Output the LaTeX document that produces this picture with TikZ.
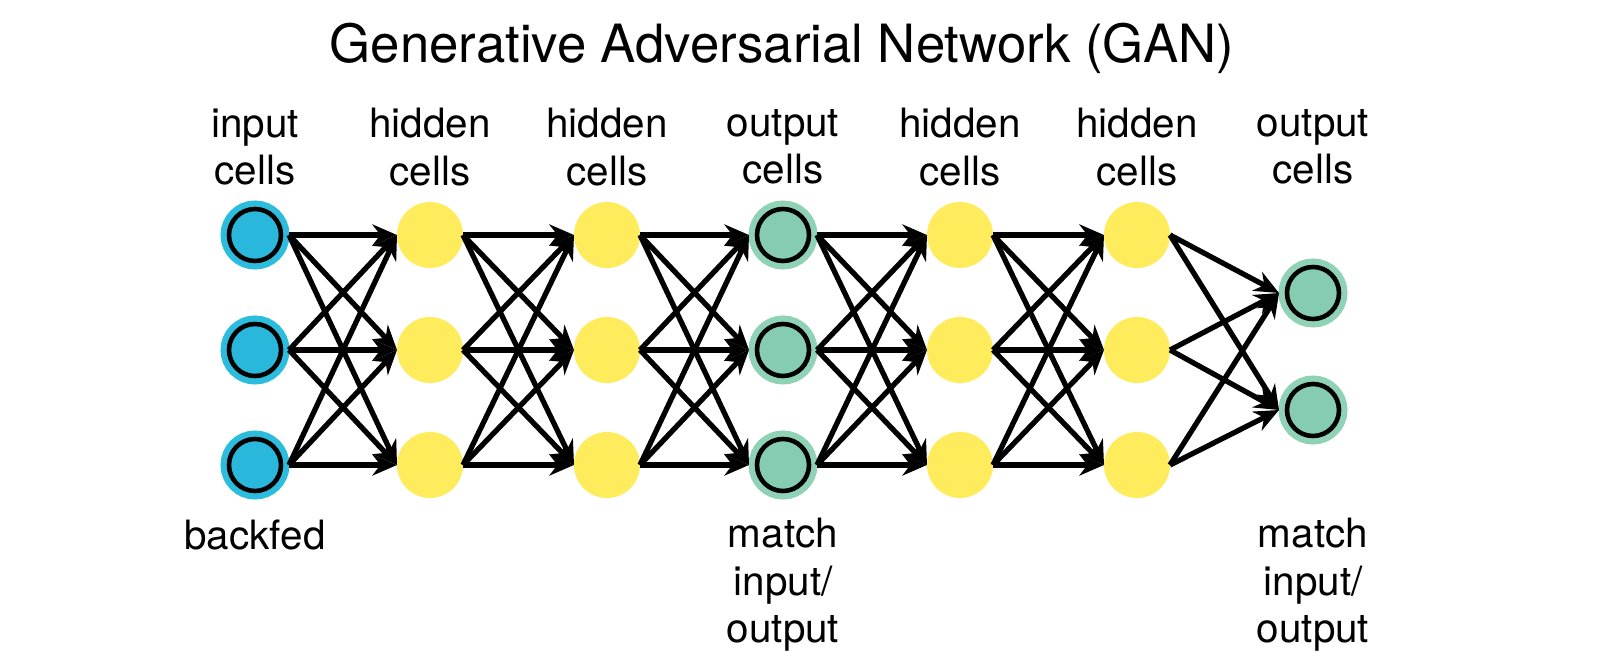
\documentclass[tikz,border=0pt]{standalone}
\usepackage{fontspec}
\setmainfont{TeX Gyre Heros}
\usetikzlibrary{arrows.meta}
\definecolor{cellblue}{HTML}{29B8DB}
\definecolor{ringblue}{HTML}{2CBCDD}
\definecolor{cellgreen}{HTML}{86CCB0}
\definecolor{ringgreen}{HTML}{8FD2B6}
\definecolor{cellyellow}{HTML}{FFEC5C}
\begin{document}
\begin{tikzpicture}[x=1cm,y=1cm,
    ring cell/.style={circle,draw=black,line width=2.6pt,minimum size=1.04cm,inner sep=0pt,outer sep=0.16cm},
    in cell/.style={ring cell,fill=cellblue,preaction={draw=ringblue,line width=0.34cm}},
    out cell/.style={ring cell,fill=cellgreen,preaction={draw=ringgreen,line width=0.34cm}},
    hid cell/.style={circle,fill=cellyellow,minimum size=1.32cm,inner sep=0pt,outer sep=0pt},
    tag/.style={align=center,font=\fontsize{23}{27}\selectfont},
    link/.style={-{Stealth[length=14pt,width=12pt]},line width=3pt}]
    \useasboundingbox (0,0) rectangle (32,-13.14);

    % title
    \node[font=\fontsize{30}{34}\selectfont] (title) at (15.64,-0.96) {Generative Adversarial Network (GAN)};

    % cells
    \foreach \c/\x/\kind in {1/5.1/in,2/8.6/hid,3/12.14/hid,4/15.66/out,5/19.2/hid,6/22.74/hid}
      \foreach \r/\y in {1/-4.7,2/-7.0,3/-9.3}
        \node[\kind\space cell] (n\c\r) at (\x,\y) {};
    \node[out cell] (n71) at (26.26,-5.86) {};
    \node[out cell] (n72) at (26.26,-8.2) {};

    % column labels
    \foreach \c/\x/\txt in {1/5.1/input\\cells,2/8.6/hidden\\cells,3/12.14/hidden\\cells,
        4/15.66/output\\cells,5/19.2/hidden\\cells,6/22.74/hidden\\cells,7/26.26/output\\cells}
      \node[tag] (top\c) at (\x,-2.94) {\txt};
    \node[tag] (bot1) at (5.1,-10.7) {backfed};
    \node[tag] (bot4) at (15.66,-11.7) {match\\input/\\output};
    \node[tag] (bot7) at (26.26,-11.7) {match\\input/\\output};

    % links
    \foreach \c [evaluate=\c as \d using int(\c+1)] in {1,...,5}
      \foreach \i in {1,2,3}
        \foreach \j in {1,2,3}
          \draw[link] (n\c\i.east) -- (n\d\j.west);
    \foreach \i in {1,2,3}
      \foreach \j in {1,2}
        \draw[link] (n6\i.east) -- (n7\j.west);
\end{tikzpicture}
\end{document}
